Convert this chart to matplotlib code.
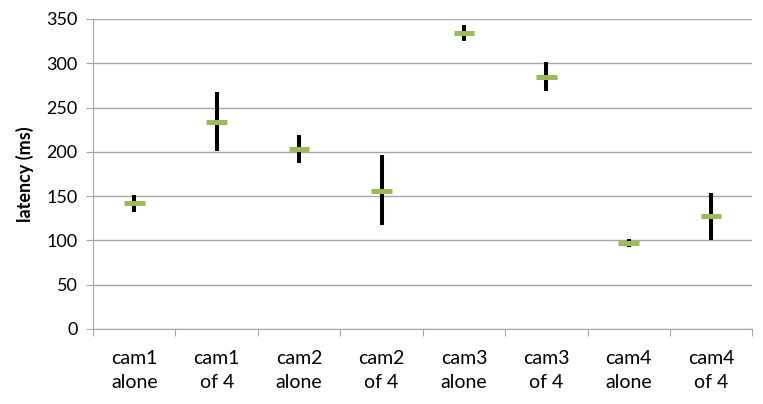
import matplotlib.pyplot as plt
import numpy as np

plt.rcParams['font.family'] = ['Lato', 'DejaVu Sans']

categories = ["cam1\nalone", "cam1\nof 4", "cam2\nalone", "cam2\nof 4",
              "cam3\nalone", "cam3\nof 4", "cam4\nalone", "cam4\nof 4"]
lat_max = [151, 267, 219, 196, 343, 301, 102, 154]
lat_min = [132, 201, 187, 117, 325, 269, 92, 100]
lat_mean = [142, 234, 203, 156, 334, 285, 97, 127]

fig = plt.figure(figsize=(7.63, 4.04), dpi=100)
ax = fig.add_axes([0.122, 0.186, 0.864, 0.767])

x = np.arange(len(categories))
ax.vlines(x, lat_min, lat_max, color="black", linewidth=2.9, zorder=3)
ax.hlines(lat_mean, x - 0.125, x + 0.125, color="#9bbb59", linewidth=3.6, zorder=4)

ax.set_xlim(-0.5, len(categories) - 0.5)
ax.set_ylim(0, 350)
ax.set_yticks(np.arange(0, 351, 50))
ax.yaxis.grid(True, color="#a6a6a6", linewidth=1)
ax.set_axisbelow(True)

# category labels between boundary ticks
ax.set_xticks(np.arange(-0.5, len(categories)), minor=False)
ax.set_xticklabels([])
ax.set_xticks(x, minor=True)
ax.set_xticklabels(categories, minor=True, fontsize=14, linespacing=1.5)
ax.tick_params(axis="x", which="minor", length=0, pad=15)
ax.tick_params(axis="x", which="major", length=5, color="#a6a6a6")
ax.tick_params(axis="y", length=5, color="#a6a6a6", labelsize=13, pad=6)

for s in ["top", "right"]:
    ax.spines[s].set_visible(False)
for s in ["left", "bottom"]:
    ax.spines[s].set_color("#a6a6a6")

ax.set_ylabel("latency (ms)", fontsize=13, fontweight="bold", labelpad=9)

fig.savefig("out.png", dpi=100)
